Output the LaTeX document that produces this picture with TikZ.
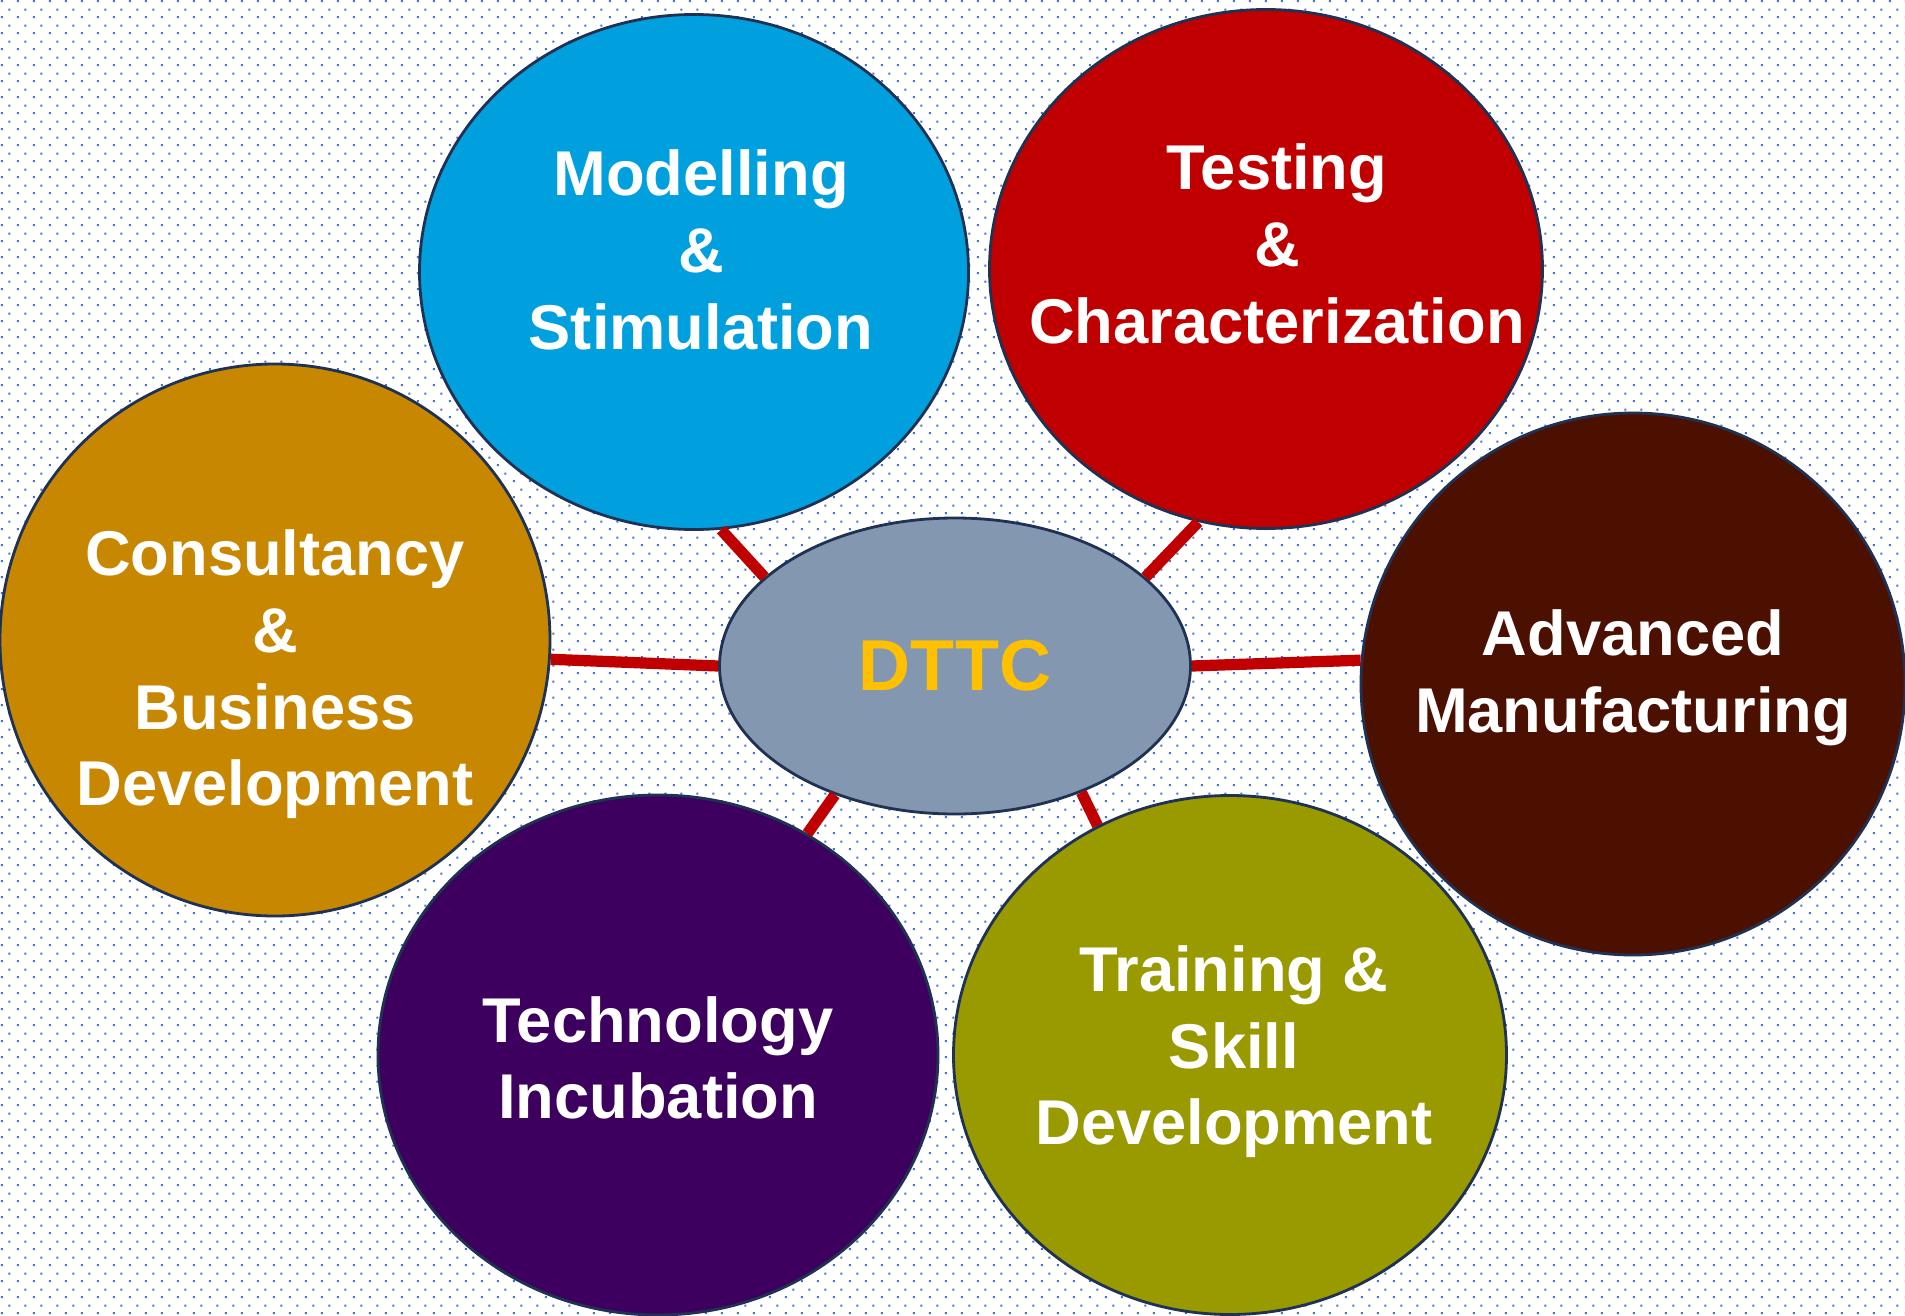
\documentclass[tikz,border=0pt]{standalone}
\usepackage{fontspec}
\setmainfont{Liberation Sans}
\usepackage{tikz}
\usetikzlibrary{shapes,patterns}
\usepackage{xcolor}

\definecolor{dotblue}{HTML}{4472C4}
\definecolor{rimblue}{HTML}{1F3254}
\definecolor{linkred}{HTML}{C00000}
\definecolor{modelblue}{HTML}{00A0DF}
\definecolor{testred}{HTML}{C00000}
\definecolor{consgold}{HTML}{C88700}
\definecolor{advbrown}{HTML}{4C1000}
\definecolor{techpurple}{HTML}{3D005E}
\definecolor{trainolive}{HTML}{999900}
\definecolor{hubgrey}{HTML}{8497B0}
\definecolor{hubgold}{HTML}{FFC000}

\pgfdeclarepatternformonly{bgdots}{\pgfpointorigin}{\pgfpoint{0.16cm}{0.16cm}}{\pgfpoint{0.16cm}{0.16cm}}{
  \pgfpathrectangle{\pgfpoint{0.02cm}{0.02cm}}{\pgfpoint{0.02cm}{0.02cm}}
  \pgfpathrectangle{\pgfpoint{0.10cm}{0.10cm}}{\pgfpoint{0.02cm}{0.02cm}}
  \pgfusepath{fill}
}

\begin{document}
\begin{tikzpicture}[bubble/.style={ellipse,draw=rimblue,line width=0.8pt,inner sep=0pt},
    txt/.style={text=white,align=center,font=\bfseries\fontsize{18}{21.8}\selectfont},
    link/.style={draw=linkred,line width=3.2pt}]

        \fill[white] (0,0) rectangle (19.05,13.15);
        \fill[pattern=bgdots,pattern color=dotblue] (0,0) rectangle (19.05,13.15);
        \useasboundingbox (0,0) rectangle (19.05,13.15);

        \node[bubble,fill=modelblue,minimum width=5.49cm,minimum height=5.15cm,label={[txt,xshift=0.07cm,yshift=0.22cm]center:{Modelling\\\&\\Stimulation}}] (model) at (6.94,10.43) {};
        \node[bubble,fill=testred,minimum width=5.53cm,minimum height=5.19cm,label={[txt,xshift=0.11cm,yshift=0.25cm]center:{Testing\\\&\\Characterization}}] (test) at (12.66,10.46) {};
        \node[bubble,fill=consgold,minimum width=5.50cm,minimum height=5.52cm,label={[txt,yshift=-0.345cm]center:{Consultancy\\\&\\Business\\Development}}] (cons) at (2.75,6.75) {};
        \node[bubble,fill=advbrown,minimum width=5.44cm,minimum height=5.42cm,label={[txt,yshift=0.065cm]center:{Advanced\\Manufacturing}}] (adv) at (16.33,6.31) {};
        \node[bubble,fill=techpurple,minimum width=5.60cm,minimum height=5.20cm,label={[txt,yshift=-0.03cm]center:{Technology\\Incubation}}] (tech) at (6.58,2.60) {};
        \node[bubble,fill=trainolive,minimum width=5.53cm,minimum height=5.19cm,label={[txt,xshift=0.04cm,yshift=0.03cm]center:{Training \&\\Skill\\Development}}] (train) at (12.30,2.60) {};

        \node[bubble,fill=hubgrey,minimum width=4.71cm,minimum height=2.96cm,text=hubgold,font=\bfseries\fontsize{20.5}{24}\selectfont] (dttc) at (9.55,6.49) {DTTC};

        \draw[link] (model.-84) -- (dttc.155);
        \draw[link] (test.-105) -- (dttc.25);
        \draw[link] (cons.-4) -- (dttc.180);
        \draw[link] (adv.175) -- (dttc.0);
        \draw[link] (tech.56) -- (dttc.-133);
        \draw[link] (train.120) -- (dttc.-45);
    \end{tikzpicture}
\end{document}
